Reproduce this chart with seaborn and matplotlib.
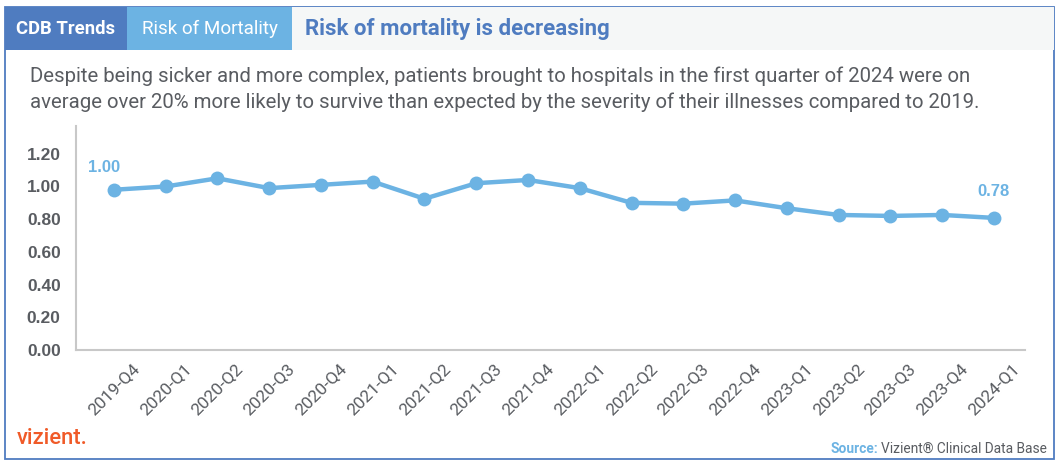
import numpy as np
import pandas as pd
import seaborn as sns
import matplotlib.pyplot as plt
from matplotlib.patches import Rectangle

quarters = ['2019-Q4', '2020-Q1', '2020-Q2', '2020-Q3', '2020-Q4', '2021-Q1',
            '2021-Q2', '2021-Q3', '2021-Q4', '2022-Q1', '2022-Q2', '2022-Q3',
            '2022-Q4', '2023-Q1', '2023-Q2', '2023-Q3', '2023-Q4', '2024-Q1']
risk = [0.98, 1.00, 1.05, 0.99, 1.01, 1.03, 0.925, 1.02, 1.04,
        0.99, 0.90, 0.895, 0.915, 0.867, 0.826, 0.82, 0.826, 0.808]
yticks = [0.0, 0.2, 0.4, 0.6, 0.8, 1.0, 1.2]
callouts = {'2019-Q4': '1.00', '2024-Q1': '0.78'}

header_tag = 'CDB Trends'
header_topic = 'Risk of Mortality'
title = 'Risk of mortality is decreasing'
subtitle = ('Despite being sicker and more complex, patients brought to hospitals in the first quarter of 2024 were on\n'
            'average over 20% more likely to survive than expected by the severity of their illnesses compared to 2019.')

dark_blue = '#4f7cc0'
light_blue = '#6cb3e3'
text_gray = '#595c61'
roboto = ['Roboto', 'DejaVu Sans']

sns.set_style('white')
plt.rcParams['font.family'] = ['Liberation Sans', 'DejaVu Sans']

W, H = 1058, 467
fig = plt.figure(figsize=(W / 100, H / 100), dpi=100)
renderer = fig.canvas.get_renderer()


def fx(px):
    return px / W


def fy(py):
    return 1 - py / H


def fit(t, width_px):
    # scale the font so the text spans the width measured on the reference
    w = t.get_window_extent(renderer).width
    t.set_fontsize(t.get_fontsize() * width_px / w)


# frame and header band
fig.add_artist(Rectangle((fx(5), fy(459)), fx(1049), (459 - 7) / H, transform=fig.transFigure,
                         fill=False, edgecolor=dark_blue, linewidth=1.3))
fig.add_artist(Rectangle((fx(292), fy(50)), fx(762), 43 / H, transform=fig.transFigure,
                         facecolor='#f5f7f7', edgecolor='none'))
fig.add_artist(Rectangle((fx(5), fy(50)), fx(122), 43 / H, transform=fig.transFigure,
                         facecolor=dark_blue, edgecolor='none'))
fig.add_artist(Rectangle((fx(127), fy(50)), fx(165), 43 / H, transform=fig.transFigure,
                         facecolor=light_blue, edgecolor='none'))
t = fig.text(fx(66), fy(29), header_tag, color='white', fontsize=13, fontweight='bold',
             family=roboto, ha='center', va='center')
fit(t, 99)
t = fig.text(fx(210), fy(29), header_topic, color='white', fontsize=13,
             family=roboto, ha='center', va='center')
fit(t, 136)
t = fig.text(fx(305), fy(29), title, color=dark_blue, fontsize=16, fontweight='bold',
             family=roboto, ha='left', va='center')
fit(t, 305)
t = fig.text(fx(30), fy(89), subtitle, color=text_gray, fontsize=13.2, ha='left', va='center',
             linespacing=1.4, family=roboto)
fit(t, 958)

# chart
ax = fig.add_axes([fx(76), fy(350), fx(1025 - 76), (350 - 126) / H])
df = pd.DataFrame({'quarter': quarters, 'risk': risk})
sns.lineplot(data=df, x='quarter', y='risk', ax=ax, color=light_blue, linewidth=3.2,
             marker='o', markersize=10, markeredgewidth=0)

for q, label in callouts.items():
    i = quarters.index(q)
    dx = -7 if i == 0 else 0
    dy = 16 if i == 0 else 19
    ax.annotate(label, (i, risk[i]), xytext=(dx, dy), textcoords='offset points',
                ha='center', va='center', color=light_blue, fontsize=12, fontweight='bold')

ax.set_xlim(-0.73, len(quarters) - 1 + 0.6)
ax.set_ylim(0, 1.37)
ax.set_yticks(yticks, [f'{v:.2f}' for v in yticks])
ax.set_xticks(range(len(quarters)), quarters)
ax.tick_params(axis='y', length=0, pad=11, labelsize=12.5, labelcolor=text_gray)
ax.tick_params(axis='x', length=0, pad=8, labelsize=12.5, labelcolor=text_gray)
for lab in ax.get_yticklabels():
    lab.set_fontweight('bold')
for lab in ax.get_xticklabels():
    lab.set_rotation(45)
    lab.set_family(roboto)
ax.set_xlabel('')
ax.set_ylabel('')
for side in ['top', 'right']:
    ax.spines[side].set_visible(False)
for side in ['left', 'bottom']:
    ax.spines[side].set_color('#c8c8c8')
    ax.spines[side].set_linewidth(1.5)

# footer
t = fig.text(fx(17), fy(438), 'vizient.', color='#f05a28', fontsize=16, ha='left', va='center',
             family=roboto, fontweight='medium')
fit(t, 71)
src = fig.text(fx(1047), fy(449), 'Vizient\u00ae Clinical Data Base', color=text_gray, fontsize=10.5,
               ha='right', va='center', family=roboto)
fit(src, 168)
bb = src.get_window_extent(renderer)
fig.text(bb.x0 / W - fx(3), fy(449), 'Source:', color=light_blue, fontsize=src.get_fontsize(),
         fontweight='bold', ha='right', va='center', family=roboto)

fig.savefig('out.png', dpi=100)
